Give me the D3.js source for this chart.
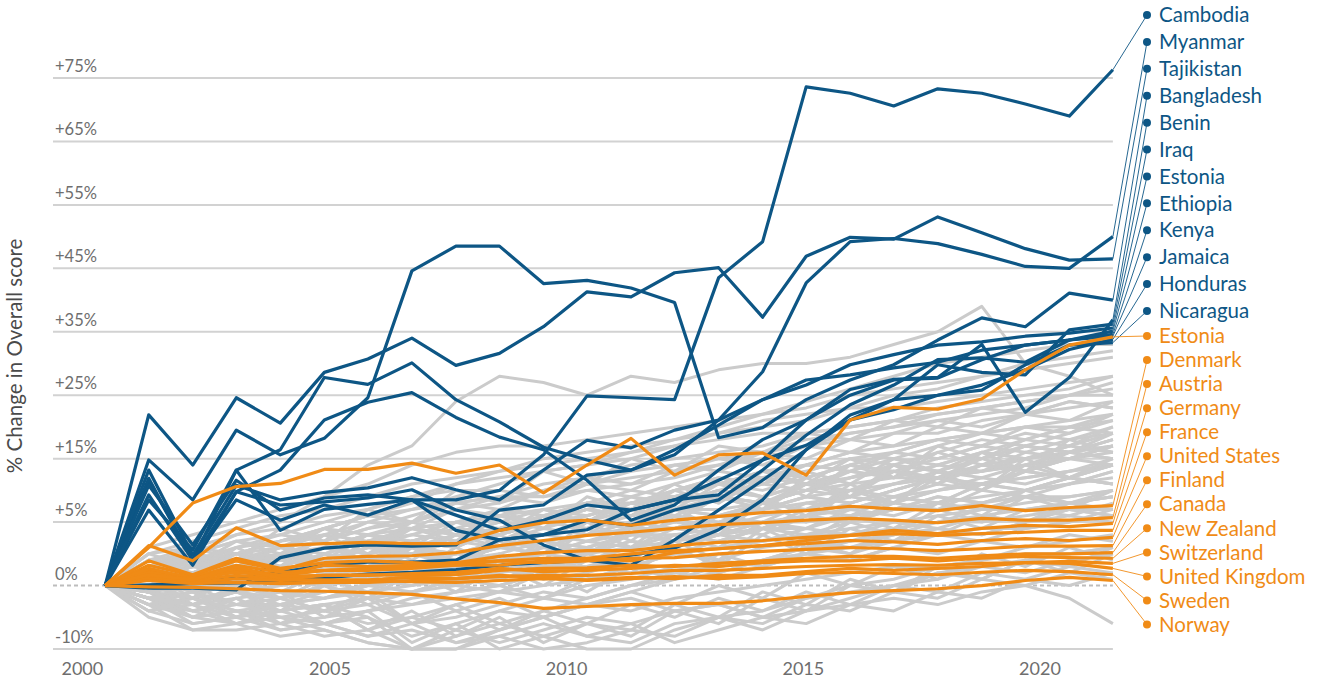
<!DOCTYPE html>
<html><head><meta charset="utf-8">
<script src="https://cdn.jsdelivr.net/npm/d3@7"></script>
<style>
body{margin:0;background:#fff}
text{font-family:Lato,"Open Sans",sans-serif}
</style>
</head><body>
<svg id="c" width="1324" height="686"></svg>
<script>
// ---- data ----
const years = [2000.25,2001.17,2002.10,2003.02,2003.95,2004.88,2005.80,2006.73,2007.66,2008.58,2009.51,2010.43,2011.36,2012.28,2013.21,2014.14,2015.06,2015.99,2016.91,2017.84,2018.77,2019.69,2020.62,2021.54];
const xTickYears = [2000,2005,2010,2015,2020];
const xTickLabels = ["2000","2005","2010","2015","2020"];
const gridValues = [-10,10,20,30,40,50,60,70,80];
const gridLabels = ["-10%","+5%","+15%","+25%","+35%","+45%","+55%","+65%","+75%"];
const zeroLabel = "0%";
const yTitle = "% Change in Overall score";

const blueNames = ["Cambodia","Myanmar","Tajikistan","Bangladesh","Benin","Iraq","Estonia","Ethiopia","Kenya","Jamaica","Honduras","Nicaragua"];
const cambodia  = [0,16.6,4.0,13.5,10.3,12.7,11.1,13.5,13.5,15.0,20.6,29.9,29.6,29.3,48.5,54.2,78.6,77.6,75.6,78.3,77.6,75.9,74.0,81.3];
const myanmar   = [0,-0.4,-0.4,-0.7,4.4,5.9,6.4,6.2,6.4,11.9,12.7,17.4,18.2,20.6,26.1,33.7,47.7,54.2,54.7,53.9,52.2,50.3,50.0,55.0];
const tajikistan= [0,26.9,19.0,29.6,25.6,33.6,35.7,39.0,34.7,36.6,40.8,46.3,45.5,49.3,50.1,42.3,51.9,54.9,54.6,58.1,55.6,53.1,51.3,51.5];
const bangladesh= [0,19.8,13.5,24.5,20.6,23.2,29.6,49.6,53.5,53.5,47.6,48.1,46.9,44.6,23.3,24.9,29.3,32.4,34.8,38.7,42.2,40.8,46.1,45.0];
const benin     = [0,16.9,4.0,18.2,8.7,12.0,12.8,13.5,11.1,8.7,10.3,12.7,11.9,13.5,16.6,19.8,26.1,30.9,32.5,32.8,38.0,27.3,32.8,41.9];
const iraq      = [0,0.1,0.3,0.4,0.6,1.2,1.8,2.1,2.5,3.2,3.6,4.0,4.8,5.9,8.8,13.5,21.4,26.9,29.3,34.8,33.6,33.2,40.3,41.2];
const estoniaB  = [0,13.5,5.6,18.2,21.4,32.8,31.7,35.1,29.3,25.8,21.8,19.8,18.2,21.4,25.3,29.3,31.6,34.8,36.4,37.9,38.4,39.3,39.8,40.6];
const ethiopia  = [0,11.9,3.2,14.8,18.2,26.1,28.9,30.4,26.5,23.4,21.4,16.6,10.3,12.7,18.2,23.0,26.1,30.0,32.4,32.7,35.6,37.9,38.7,40.1];
const kenya     = [0,18.2,4.8,15.8,13.5,14.7,15.4,17.0,15.1,13.5,18.2,22.9,21.7,24.5,26.1,29.3,32.4,33.2,34.3,35.2,37.1,37.9,38.7,39.6];
const jamaica   = [0,15.8,6.4,16.6,11.9,13.8,14.3,13.5,8.7,7.2,8.0,10.3,9.5,11.9,13.5,18.2,23.7,28.5,31.6,35.6,35.9,35.2,38.7,39.3];
const honduras  = [0,14.3,4.0,14.8,12.7,13.2,13.8,15.1,11.9,10.3,6.4,4.0,3.2,7.2,11.9,16.6,21.4,26.1,29.3,30.0,31.6,34.0,37.2,38.8];
const nicaragua = [0,-0.1,0.4,1.2,2.1,3.2,3.7,3.7,4.0,7.2,8.0,8.8,11.9,13.5,14.3,19.8,22.1,26.1,27.7,30.0,30.8,34.8,37.9,38.3];
const blueSeries = [cambodia,myanmar,tajikistan,bangladesh,benin,iraq,estoniaB,ethiopia,kenya,jamaica,honduras,nicaragua];

const orangeNames = ["Estonia","Denmark","Austria","Germany","France","United States","Finland","Canada","New Zealand","Switzerland","United Kingdom","Sweden","Norway"];
const estoniaO   = [0,6.0,13.0,15.6,16.1,18.3,18.3,19.3,17.7,19.0,14.6,19.0,23.2,17.4,20.6,20.9,17.4,26.1,28.1,27.8,29.4,34.0,37.9,39.2];
const denmark    = [0,6.3,3.9,9.1,6.3,6.6,6.8,6.6,6.6,8.7,9.9,10.3,9.5,10.3,10.9,11.5,11.8,12.5,12.1,11.8,12.6,11.8,12.3,12.6];
const austria    = [0,3.2,1.6,3.9,2.4,4.3,4.6,4.7,5.2,6.3,7.1,7.9,8.4,9.0,9.6,9.9,10.3,10.6,10.3,9.9,10.6,10.3,10.3,10.7];
const germany    = [0,2.4,1.3,3.2,2.1,2.4,2.7,3.0,3.6,4.6,5.2,5.5,5.5,6.3,6.8,7.1,7.6,7.9,8.7,8.2,9.0,9.5,9.3,9.8];
const france     = [0,2.7,1.1,2.4,1.6,3.2,3.0,3.2,3.6,3.9,4.3,4.3,5.0,5.5,5.8,6.3,7.1,7.9,8.2,7.9,8.2,8.4,8.7,8.7];
const usa        = [0,3.9,1.7,4.3,2.7,3.6,3.9,3.6,3.2,3.2,3.9,4.3,3.9,5.2,5.8,6.3,6.6,7.1,6.9,6.5,7.1,7.4,7.1,7.6];
const finland    = [0,2.1,0.8,2.7,1.6,2.4,2.4,2.7,3.2,3.9,3.6,3.9,4.3,4.4,5.0,5.4,5.7,6.0,5.8,5.5,5.8,6.2,6.2,6.3];
const canada     = [0,1.6,0.8,1.6,1.1,1.6,1.7,1.6,1.7,2.4,2.7,2.8,3.2,3.0,3.5,3.9,4.3,4.6,4.6,4.3,4.7,5.0,5.0,5.2];
const newZealand = [0,1.3,1.1,2.1,1.4,1.6,1.6,1.9,2.1,2.7,2.2,2.4,2.7,3.2,3.0,3.6,3.9,3.9,4.3,3.9,4.3,4.6,4.4,4.3];
const switzerland= [0,1.1,0.5,1.1,0.8,0.9,0.9,1.3,1.1,1.4,1.6,1.6,1.9,2.4,2.4,2.7,3.0,3.2,3.3,3.2,3.5,3.6,3.8,3.5];
const uk         = [0,1.7,0.9,3.0,1.1,0.8,0.8,0.6,0.5,0.8,1.1,0.9,1.3,1.1,1.6,1.6,2.2,2.7,2.4,2.7,3.0,3.6,3.5,2.7];
const sweden     = [0,0.8,0.3,0.5,0.3,0.5,0.5,0.8,1.1,1.6,1.3,0.8,1.1,1.4,1.1,1.4,1.9,2.1,1.9,1.7,2.1,2.4,2.2,1.7];
const norway     = [0,-0.2,-0.3,-0.5,-0.8,-0.9,-1.1,-1.4,-2.1,-2.7,-3.6,-3.3,-3.0,-2.8,-2.8,-2.4,-1.7,-1.1,-0.8,-0.5,0,0.8,1.3,0.8];
const orangeSeries = [estoniaO,denmark,austria,germany,france,usa,finland,canada,newZealand,switzerland,uk,sweden,norway];

const graySeries = [
[0,-2,-4,-3,-3,-2,-1,0,1,2,3,3,4,5,6,7,8,9,10,11,12,12,13,14],
[0,1,-1,2,1,3,4,5,4,6,7,8,9,9,11,12,14,15,16,17,18,19,20,22],
[0,3,2,4,5,6,8,9,10,11,12,13,13,15,16,18,19,21,22,23,24,25,26,27],
[0,-3,-7,-7,-6,-5,-4,-3,-2,-1,0,1,2,2,3,4,5,6,7,8,9,9,10,11],
[0,2,4,5,7,8,10,12,13,14,14,15,16,17,19,20,22,24,25,26,27,28,30,31],
[0,-1,-2,-4,-5,-7,-9,-10,-8,-6,-4,-2,0,1,3,4,6,7,9,10,12,13,14,15],
[0,4,3,6,7,9,11,13,16,18,20,21,22,23,24,26,27,28,28,29,30,31,32,33],
[0,-4,-6,-5,-7,-6,-5,-8,-6,-4,-5,-3,-4,-2,-1,0,1,2,3,3,4,5,5,6],
[0,1,3,2,4,3,5,6,8,9,10,9,11,12,12,13,15,16,17,17,18,20,21,23],
[0,2,1,3,2,4,6,5,7,8,10,11,13,14,16,17,18,20,21,23,24,25,25,26],
[0,-2,-1,-3,-4,-3,-2,-1,0,2,4,5,7,6,8,10,11,12,14,15,16,17,18,19],
[0,5,6,8,9,11,12,14,16,17,18,19,21,22,23,24,24,25,26,27,28,29,30,30],
[0,0,-2,-1,0,1,2,2,3,4,3,5,6,7,8,9,9,11,12,13,14,15,16,17],
[0,-5,-7,-6,-4,-3,-5,-10,-10,-7,-5,-3,-1,1,2,4,5,7,8,10,11,12,13,14],
[0,3,5,7,8,10,12,14,15,15,14,16,17,18,19,21,22,23,24,24,26,27,28,29],
[0,1,0,2,3,2,4,3,5,6,5,7,8,8,9,10,10,11,12,12,13,14,14,15],
[0,-1,-3,-2,-1,-2,0,1,2,1,3,4,3,5,6,7,8,8,9,10,10,11,12,12],
[0,2,3,4,6,7,9,10,12,13,15,16,18,19,20,21,23,24,25,27,28,29,30,32],
[0,-3,-4,-2,-5,-6,-4,-2,-1,0,2,3,5,6,8,9,11,12,13,15,16,17,18,20],
[0,6,8,10,12,14,16,19,21,22,22,23,24,25,26,27,28,30,31,32,33,34,35,36],
[0,1,-1,0,2,1,3,5,4,6,8,7,9,11,10,12,14,13,15,17,16,18,20,21],
[0,-2,-5,-4,-6,-8,-7,-5,-3,-6,-8,-10,-10,-7,-5,-4,-2,0,1,3,4,6,7,8],
[0,4,2,5,6,5,7,8,7,9,10,12,11,13,14,13,15,17,18,17,19,20,21,22],
[0,-1,0,1,0,2,1,3,2,4,5,6,8,9,11,12,13,14,16,17,18,19,21,22],
[0,3,4,3,5,7,9,11,13,14,16,17,19,20,21,22,24,25,26,28,29,30,31,33],
[0,-2,-3,-1,-2,0,1,0,2,3,1,2,4,5,4,6,7,6,8,9,8,10,11,10],
[0,2,5,4,6,8,7,9,10,12,11,13,15,14,16,18,17,19,21,20,22,24,23,25],
[0,-4,-3,-6,-5,-4,-3,-6,-5,-3,-1,-2,0,2,1,3,5,4,6,8,7,9,10,12],
[0,1,2,4,3,5,7,6,8,10,9,11,13,12,14,16,15,17,19,18,20,22,21,23],
[0,5,7,9,11,12,14,16,17,18,19,20,21,23,25,27,29,31,33,35,36,37,38,38],
[0,-1,-4,-3,-2,-4,-6,-5,-7,-9,-7,-5,-6,-4,-3,-5,-2,-1,0,2,3,2,4,5],
[0,2,0,1,3,2,4,6,5,7,9,8,10,12,11,13,15,14,16,18,17,19,21,20],
[0,0,1,-1,0,2,3,2,4,5,7,6,8,10,9,11,12,14,13,15,17,16,18,19],
[0,3,1,4,2,5,7,9,8,10,12,11,13,15,17,16,18,20,19,21,23,22,24,26],
[0,-2,-6,-5,-3,-4,-2,-3,-1,0,-2,0,1,3,2,4,6,5,7,9,8,10,12,11],
[0,1,3,5,7,9,11,12,14,16,18,19,20,22,24,25,26,28,30,31,33,35,36,37],
[0,-3,-2,-4,-3,-1,0,2,1,3,5,4,6,8,7,9,11,10,12,14,13,15,17,16],
[0,2,4,3,5,4,6,8,10,9,11,13,12,14,16,15,17,19,18,20,22,21,23,24],
[0,4,6,5,7,9,8,10,12,11,13,15,14,16,18,17,19,21,20,22,24,23,25,27],
[0,-1,-2,-1,-3,-2,0,-1,1,0,2,1,3,2,4,3,5,4,6,5,7,6,8,7],
[0,1,2,1,3,2,4,3,5,4,6,5,7,6,8,7,9,8,10,9,11,10,12,11],
[0,-2,-4,-6,-8,-7,-9,-10,-7,-4,-2,1,3,5,7,9,11,13,15,17,19,18,20,22],
[0,3,2,4,3,6,5,7,6,9,8,10,9,12,11,13,12,15,14,16,15,18,17,19],
[0,2,3,5,4,6,8,7,9,8,10,12,11,13,15,14,16,18,17,19,21,20,22,24],
[0,-1,1,0,2,4,3,5,7,6,8,10,9,11,10,12,14,13,15,17,16,18,17,19],
[0,1,0,-1,-2,-1,0,1,0,-1,-2,-3,-2,-4,-3,-5,-4,-3,-2,-3,-1,0,-2,-6],
[0,3,5,8,10,14,19,22,29,33,32,30,33,32,34,35,35,36,38,40,44,35,33,30],
[0,-2,-5,-6,-4,-3,-7,-10,-10,-8,-6,-8,-9,-6,-5,-7,-4,-2,0,1,3,4,5,6],
[0,2,1,3,1,0,-2,-1,1,3,2,4,6,5,7,9,8,10,12,14,13,15,16,18],
[0,1,3,2,4,6,8,7,9,11,10,12,14,13,15,17,16,18,20,19,21,23,25,24],
[0,-3,-1,-5,-2,-4,-1,-6,-3,-1,2,-1,3,1,5,3,7,5,9,8,11,10,13,12],
[0,4,1,6,3,8,5,9,7,12,9,13,11,15,13,17,14,19,17,21,19,22,21,24],
[0,2,-2,3,0,4,1,6,2,7,4,9,6,11,8,13,10,15,13,17,15,19,17,20],
[0,-1,-5,-2,-6,-3,-7,-4,-8,-5,-9,-6,-7,-3,-5,-1,-3,1,-1,3,1,4,2,5],
[0,3,6,4,9,7,12,10,15,13,18,16,20,18,22,21,24,23,26,25,28,27,29,28],
[0,1,-3,-1,-4,0,-2,2,0,4,1,5,3,7,4,9,6,10,8,12,10,14,12,15],
[0,5,3,7,5,9,6,10,8,11,9,14,12,16,13,18,16,20,17,22,20,23,22,25],
[0,-2,0,-3,-1,-5,-2,-6,-4,-7,-5,-8,-6,-9,-7,-5,-6,-3,-4,-1,-2,1,0,2],
[0,2,4,1,5,3,7,4,8,6,11,8,12,10,14,12,17,14,19,16,21,18,23,21],
[0,1,2,0,3,1,4,2,6,3,7,5,9,7,11,9,12,11,14,13,16,15,17,16],
[0,3,0,4,1,5,2,6,4,8,5,10,7,12,9,14,11,16,13,18,15,20,17,19],
[0,-4,-2,-5,-3,-6,-4,-9,-6,-10,-8,-6,-8,-4,-6,-2,-4,0,-1,2,1,4,3,6],
[0,2,3,2,5,4,6,9,8,11,10,13,12,15,17,16,19,18,21,23,22,25,24,27],
[0,0,-2,1,-1,2,0,3,1,5,2,6,4,8,6,10,7,11,9,13,11,15,13,14],
[0,1,4,2,5,3,6,5,8,7,10,9,12,10,14,13,16,14,18,17,20,18,21,20],
[0,-1,-3,0,-2,1,-1,2,-1,3,0,4,2,6,3,8,5,9,7,11,9,12,11,13],
[0,4,5,7,6,9,11,10,13,12,15,17,16,19,18,21,20,23,22,25,24,27,29,28],
[0,2,-1,1,-2,0,-3,-1,-4,-2,-5,-3,-1,-3,0,-2,2,0,3,1,5,3,6,4],
[0,3,2,5,3,6,4,7,9,8,10,12,11,13,15,14,16,17,19,18,20,22,21,23],
[0,-2,-3,-5,-4,-6,-8,-7,-9,-8,-10,-9,-7,-8,-5,-6,-3,-4,-1,-2,1,0,2,1],
[0,1,3,4,3,6,5,7,6,9,8,10,13,11,14,12,16,15,18,16,19,18,20,19],
[0,2,1,4,3,5,4,7,6,9,11,10,12,11,14,13,15,18,17,19,18,21,20,22],
[0,-1,0,2,1,3,2,5,3,4,6,5,8,7,9,8,11,10,13,12,15,14,16,18],
[0,3,4,6,8,7,10,9,12,14,13,16,15,18,20,19,22,21,24,26,25,27,26,29],
[0,-3,-5,-4,-7,-6,-8,-6,-9,-7,-4,-6,-3,-5,-2,-4,-1,-3,0,-1,2,1,3,2],
[0,1,0,3,2,4,3,6,5,7,6,8,10,9,11,10,13,12,14,13,16,15,17,16],
[0,2,5,3,6,4,8,6,10,8,12,10,14,12,16,14,18,16,20,18,21,20,22,21],
[0,0,2,1,2,4,3,5,4,6,5,7,6,9,8,10,9,12,11,13,12,14,13,15]
];

// ---- drawing ----
const BLUE = "#0d5685", ORANGE = "#f08b16", GRAY = "#cbcbcb";
const svg = d3.select("#c");
const x = d3.scaleLinear().domain([2005,2020]).range([330,1040]);
const y = d3.scaleLinear().domain([-10,80]).range([649,78]);
const xStart = 53, xEnd = x(years[years.length-1]);

const grid = svg.append("g");
gridValues.forEach((v,i)=>{
  grid.append("line").attr("x1",xStart).attr("x2",xEnd).attr("y1",y(v)).attr("y2",y(v))
    .attr("stroke","#d2d2d2").attr("stroke-width",2);
  grid.append("text").attr("x",55).attr("y",y(v)-6).attr("font-size",16.5).attr("fill","#6e6e6e").text(gridLabels[i]);
});
grid.append("line").attr("x1",xStart).attr("x2",xEnd).attr("y1",y(0)).attr("y2",y(0))
  .attr("stroke","#bdbdbd").attr("stroke-width",2).attr("stroke-dasharray","4,3");
grid.append("text").attr("x",55).attr("y",y(0)-6).attr("font-size",16.5).attr("fill","#6e6e6e").text(zeroLabel);

xTickYears.forEach((t,i)=>{
  svg.append("text").attr("x",x(t)+(i===0?-11:0)).attr("y",675).attr("text-anchor","middle")
    .attr("font-size",18).attr("fill","#6e6e6e").text(xTickLabels[i]);
});

svg.append("text").attr("transform","translate(22,356) rotate(-90)").attr("text-anchor","middle")
  .attr("font-size",20.5).attr("fill","#4a4a4a").text(yTitle);

const line = d3.line().x((d,i)=>x(years[i])).y(d=>y(d));
svg.append("g").selectAll("path").data(graySeries).join("path")
  .attr("d",line).attr("fill","none").attr("stroke",GRAY).attr("stroke-width",3).attr("stroke-linejoin","round");
svg.append("g").selectAll("path").data(blueSeries).join("path")
  .attr("d",line).attr("fill","none").attr("stroke",BLUE).attr("stroke-width",3.2).attr("stroke-linejoin","round");
svg.append("g").selectAll("path").data(orangeSeries).join("path")
  .attr("d",line).attr("fill","none").attr("stroke",ORANGE).attr("stroke-width",3.2).attr("stroke-linejoin","round");

const blueY = d3.scalePoint().domain(d3.range(blueNames.length)).range([15,311]);
const orangeY = d3.scalePoint().domain(d3.range(orangeNames.length)).range([336,624.5]);
const dotX = 1147, textX = 1159;
function legend(names, series, ys, color){
  const g = svg.append("g");
  names.forEach((n,i)=>{
    const last = series[i][series[i].length-1];
    g.append("line").attr("x1",xEnd).attr("y1",y(last)).attr("x2",dotX).attr("y2",ys(i))
      .attr("stroke",color).attr("stroke-width",0.9);
    g.append("circle").attr("cx",dotX).attr("cy",ys(i)).attr("r",4).attr("fill",color);
    g.append("text").attr("x",textX).attr("y",ys(i)).attr("dy","0.35em").attr("font-size",20.5)
      .attr("fill",color).text(n);
  });
}
legend(blueNames, blueSeries, blueY, BLUE);
legend(orangeNames, orangeSeries, orangeY, ORANGE);
</script>
</body></html>
